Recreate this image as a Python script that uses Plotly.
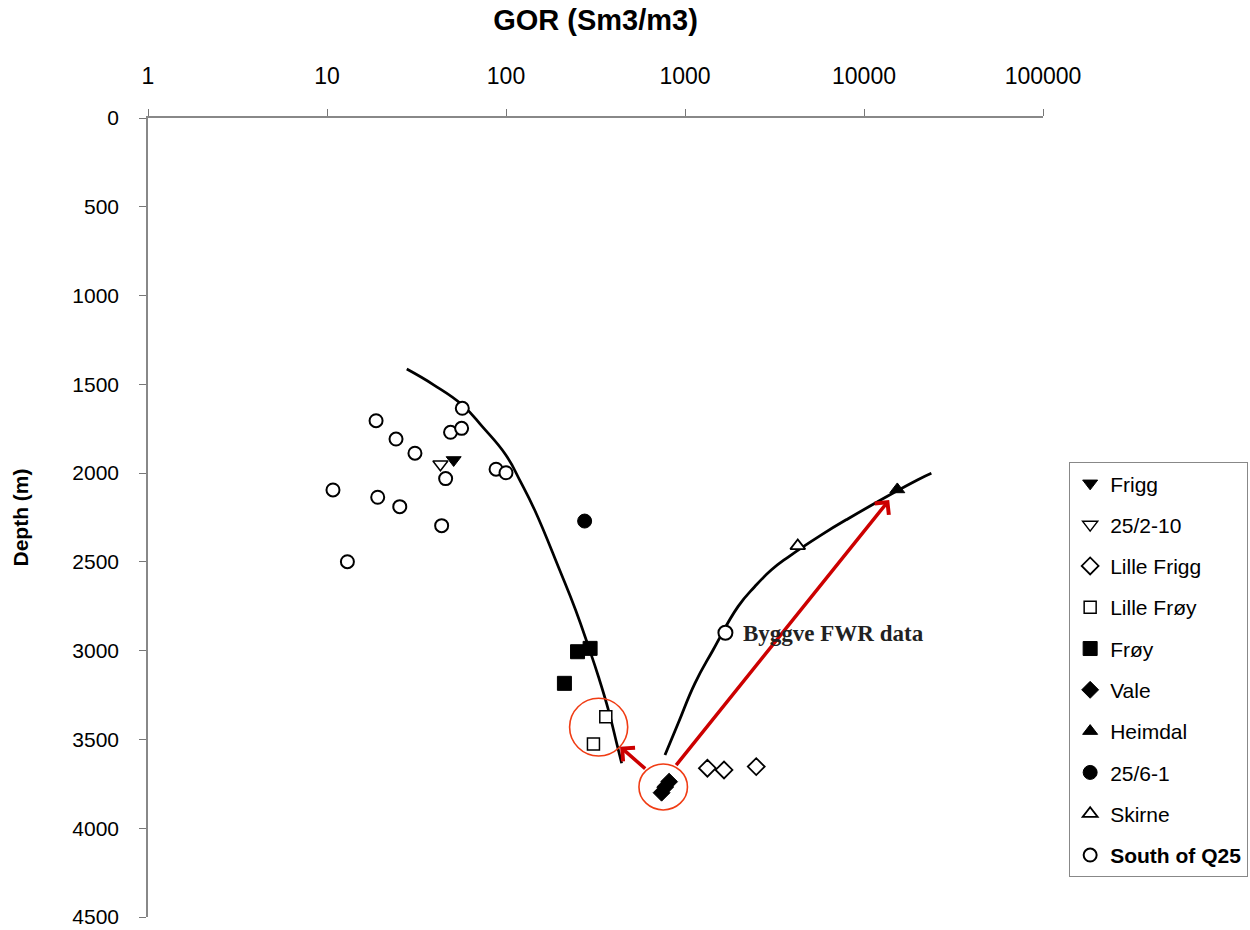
import math
import plotly.graph_objects as go

# ---------------- data (GOR in Sm3/m3, depth in m) ----------------
south_gor = [57, 49, 56.5, 18.8, 24.3, 31, 88, 100, 46, 10.8, 19.2, 25.5, 43.7, 13]
south_depth = [1635, 1770, 1748, 1705, 1808, 1888, 1978, 1998, 2031, 2095, 2136, 2189, 2296, 2499]

frigg_gor = [51]
frigg_depth = [1926]
w25210_gor = [43]
w25210_depth = [1950]
lille_frigg_gor = [1334, 1652, 2500]
lille_frigg_depth = [3662, 3672, 3653]
lille_froy_gor = [361, 308]
lille_froy_depth = [3372, 3526]
froy_gor = [251, 295, 212]
froy_depth = [3006, 2987, 3184]
vale_gor = [740, 775, 815]
vale_depth = [3800, 3768, 3738]
heimdal_gor = [15350]
heimdal_depth = [2092]
w2561_gor = [275]
w2561_depth = [2270]
skirne_gor = [4266]
skirne_depth = [2410]
byggve_gor = [1682]
byggve_depth = [2899]

# trend curves
left_curve_gor = [27.9, 39.6, 57, 74, 99.8, 120.5, 144.6, 199.4, 244.8, 289, 328.6, 373.6, 415.5, 442.6]
left_curve_depth = [1414, 1504, 1616, 1740, 1898, 2048, 2208, 2546, 2771, 2978, 3147, 3335, 3522, 3634]
right_curve_gor = [773, 916, 1136, 1435, 1977, 2450, 3032, 3755, 5754, 8110, 19870, 23790]
right_curve_depth = [3588, 3409, 3184, 2996, 2752, 2640, 2546, 2474, 2349, 2258, 2039, 2001]

# red arrows: (tail GOR, tail depth, head GOR, head depth)
arrow_short = (611, 3672, 434, 3541)
arrow_long = (879, 3653, 13830, 2151)

# red highlight circles: (GOR min, GOR max, depth min, depth max)
circle_lille_froy = (226.6, 478.5, 3268, 3593)
circle_vale = (553, 1032, 3638, 3897)

x_tick_vals = [1, 10, 100, 1000, 10000, 100000]
x_tick_text = ["1", "10", "100", "1000", "10000", "100000"]
y_tick_vals = [0, 500, 1000, 1500, 2000, 2500, 3000, 3500, 4000, 4500]

FONT = "Liberation Sans"
BLACK = "#000000"

fig = go.Figure()

# curves
fig.add_trace(go.Scatter(x=left_curve_gor, y=left_curve_depth, mode="lines",
                         line=dict(color=BLACK, width=2.7, shape="spline", smoothing=1.3),
                         showlegend=False, hoverinfo="skip"))
fig.add_trace(go.Scatter(x=right_curve_gor, y=right_curve_depth, mode="lines",
                         line=dict(color=BLACK, width=2.8, shape="spline", smoothing=1.3),
                         showlegend=False, hoverinfo="skip"))


def pts(name, xs, ys, symbol, size, fill, lw=1.5, group=None):
    fig.add_trace(go.Scatter(
        x=xs, y=ys, mode="markers", name=name, legendgroup=group or name,
        marker=dict(symbol=symbol, size=size, color=fill,
                    line=dict(color=BLACK, width=lw))))


pts("Frigg", frigg_gor, frigg_depth, "triangle-down", 13, BLACK, 1)
pts("25/2-10", w25210_gor, w25210_depth, "triangle-down", 13, "white", 1.5)
pts("Lille Frigg", lille_frigg_gor, lille_frigg_depth, "diamond", 13, "white", 1.8)
pts("Lille Frøy", lille_froy_gor, lille_froy_depth, "square", 12, "white", 1.5)
pts("Frøy", froy_gor, froy_depth, "square", 14, BLACK, 1)
pts("Vale", vale_gor, vale_depth, "diamond", 13, BLACK, 1)
pts("Heimdal", heimdal_gor, heimdal_depth, "triangle-up", 13, BLACK, 1)
pts("25/6-1", w2561_gor, w2561_depth, "circle", 14, BLACK, 1)
pts("Skirne", skirne_gor, skirne_depth, "triangle-up", 13, "white", 1.8)
pts("<b>South of Q25</b>", south_gor, south_depth, "circle", 13, "white", 2, group="south")

fig.add_trace(go.Scatter(x=byggve_gor, y=byggve_depth, mode="markers",
                         marker=dict(symbol="circle", size=14, color="white",
                                     line=dict(color=BLACK, width=2)),
                         showlegend=False))

# annotations
RED = "#cc0000"
for tail_x, tail_y, head_x, head_y in (arrow_short, arrow_long):
    fig.add_annotation(x=math.log10(head_x), y=head_y, ax=math.log10(tail_x), ay=tail_y,
                       xref="x", yref="y", axref="x", ayref="y", text="",
                       showarrow=True, arrowhead=4, arrowsize=1, arrowwidth=3.5,
                       arrowcolor=RED, standoff=0, startstandoff=0)

fig.add_annotation(x=math.log10(2056), y=2906, xref="x", yref="y", text="<b>Byggve FWR data</b>",
                   showarrow=False, xanchor="left", yanchor="middle",
                   font=dict(family="Liberation Serif", size=23, color="#222222"))

ORANGE = "#f03c14"
for gx0, gx1, dy0, dy1 in (circle_lille_froy, circle_vale):
    fig.add_shape(type="circle", xref="x", yref="y", x0=gx0, x1=gx1, y0=dy0, y1=dy1,
                  line=dict(color=ORANGE, width=1.6), layer="above")

fig.update_layout(
    width=1250, height=930,
    margin=dict(l=148, r=207, t=118, b=13, autoexpand=False),
    paper_bgcolor="white", plot_bgcolor="white",
    font=dict(family=FONT, size=21, color=BLACK),
    xaxis=dict(type="log", side="top", range=[0, 5], tickvals=x_tick_vals, ticktext=x_tick_text,
               ticks="outside", ticklen=7, tickcolor="#777777", tickwidth=1,
               showline=True, linecolor="#888888", linewidth=1.5, showgrid=False, zeroline=False,
               ticklabelstandoff=16, tickfont=dict(size=23),
               title=dict(text="<b>GOR (Sm3/m3)</b>", font=dict(size=29), standoff=24)),
    yaxis=dict(range=[4500, 0], tickvals=y_tick_vals, ticks="outside", ticklen=7,
               tickcolor="#777777", tickwidth=1, showline=True, linecolor="#888888", linewidth=1.5,
               showgrid=False, zeroline=False, ticklabelstandoff=16, tickfont=dict(size=21),
               title=dict(text="<b>Depth (m)</b>", font=dict(size=21), standoff=38)),
    legend=dict(x=1.029, y=0.5695, xanchor="left", yanchor="top", bgcolor="white",
                bordercolor="#888888", borderwidth=1.2, font=dict(size=21),
                tracegroupgap=11, traceorder="grouped", itemwidth=30),
    showlegend=True,
)

fig.write_html("out.html")
